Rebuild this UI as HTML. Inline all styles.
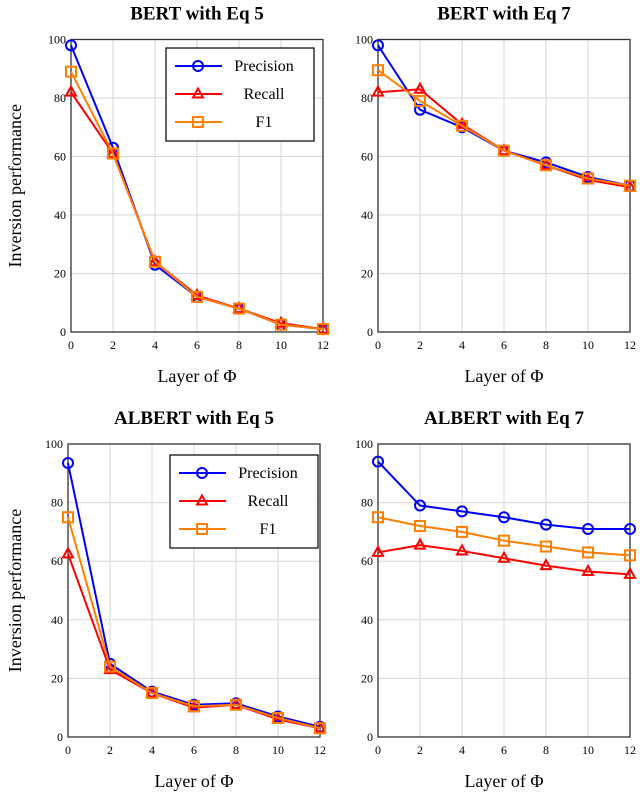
<!DOCTYPE html>
<html><head><meta charset="utf-8"><style>
body{margin:0;background:#fff;}
svg text{font-family:"Liberation Serif",serif;fill:#000;}
</style></head><body>
<svg id="c" width="640" height="795"></svg>
<script>
const layers=[0,2,4,6,8,10,12];
const yTicks=[0,20,40,60,80,100];
const titles=["BERT with Eq 5","BERT with Eq 7","ALBERT with Eq 5","ALBERT with Eq 7"];
const precision=[[98,63,23,12,8,2.5,1],[98,76,70,62,58,53,50],[93.5,25,15.5,11,11.5,7,3.5],[94,79,77,75,72.5,71,71]];
const recall=[[82,61,24,12.5,8,3,1],[82,83,71,62,57,52,49.5],[62.5,23,15,10,11,6,3],[63,65.5,63.5,61,58.5,56.5,55.5]];
const f1=[[89,61,24,12,8,2.5,1],[89.5,79,70.5,62,57,52.5,50],[75,24,15,10.5,11,6.5,3],[75,72,70,67,65,63,62]];
const seriesNames=["Precision","Recall","F1"];
const NS="http://www.w3.org/2000/svg";
const svg=document.getElementById('c');
function mk(t,a,p){const e=document.createElementNS(NS,t);for(const k in a)e.setAttribute(k,a[k]);(p||svg).appendChild(e);return e;}
const panels=[{x0:71,x1:323,y0:332,y1:39.5},{x0:378,x1:630,y0:332,y1:39.5},{x0:68,x1:320,y0:737,y1:444},{x0:378,x1:630,y0:737,y1:444}];
const colors=["#0000ff","#ff0000","#ff8000"];
function marker(type,x,y,color,g){
  let e;
  if(type===0)e=mk('circle',{cx:x,cy:y,r:5,fill:'none',stroke:color,'stroke-width':2},g);
  else if(type===1)e=mk('polygon',{points:`${x},${y-5.5} ${x-5},${y+3.5} ${x+5},${y+3.5}`,fill:'none',stroke:color,'stroke-width':2},g);
  else e=mk('rect',{x:x-5,y:y-5,width:10,height:10,fill:'none',stroke:color,'stroke-width':2},g);
  return e;
}
panels.forEach((p,i)=>{
  const g=mk('g',{});
  
  
  const sx=v=>p.x0+(v-0)/12*(p.x1-p.x0);
  const sy=v=>p.y0-(v/100)*(p.y0-p.y1);
  layers.forEach(l=>{mk('line',{x1:sx(l),x2:sx(l),y1:p.y0,y2:p.y1,stroke:'#d6d6d6','stroke-width':1},g);
    const t=mk('text',{x:sx(l),y:p.y0+17,'text-anchor':'middle','font-size':12},g);t.textContent=l;
    });
  yTicks.forEach(v=>{mk('line',{x1:p.x0,x2:p.x1,y1:sy(v),y2:sy(v),stroke:'#d6d6d6','stroke-width':1},g);
    const t=mk('text',{x:p.x0-5,y:sy(v)+4,'text-anchor':'end','font-size':12},g);t.textContent=v;
    });
  const fr=mk('rect',{x:p.x0,y:p.y1,width:p.x1-p.x0,height:p.y0-p.y1,fill:'none',stroke:'#333','stroke-width':1.3},g);
  
  const tt=mk('text',{x:(p.x0+p.x1)/2,y:p.y1-20,'text-anchor':'middle','font-size':19,'font-weight':'bold'},g);tt.textContent=titles[i];
  
  const xt=mk('text',{x:(p.x0+p.x1)/2,y:p.y0+50,'text-anchor':'middle','font-size':18},g);xt.textContent='Layer of Φ';
  
  if(i%2===0){const yt=mk('text',{x:0,y:0,'text-anchor':'middle','font-size':18,transform:`translate(21,${(p.y0+p.y1)/2}) rotate(-90)`},g);yt.textContent='Inversion performance';
    }
  [precision[i],recall[i],f1[i]].forEach((d,s)=>{
    const pl=mk('polyline',{points:d.map((v,k)=>sx(layers[k])+','+sy(v)).join(' '),fill:'none',stroke:colors[s],'stroke-width':2},g);
    
    d.forEach((v,k)=>{const m=marker(s,sx(layers[k]),sy(v),colors[s],g);
      });
  });
  if(i===0||i===2){
    const lx=i===0?166:170, ly=i===0?48:455;
    const lg=mk('g',{},g);
    
    mk('rect',{x:lx,y:ly,width:148,height:93,fill:'#fff',stroke:'#000','stroke-width':1.2},lg);
    seriesNames.forEach((n,s)=>{const yy=ly+18+s*28;
      mk('line',{x1:lx+9,x2:lx+56,y1:yy,y2:yy,stroke:colors[s],'stroke-width':2},lg);
      marker(s,lx+32,yy,colors[s],lg);
      const t=mk('text',{x:lx+98,y:yy+5,'text-anchor':'middle','font-size':16},lg);t.textContent=n;
      });
  }
});
</script>
</body></html>
